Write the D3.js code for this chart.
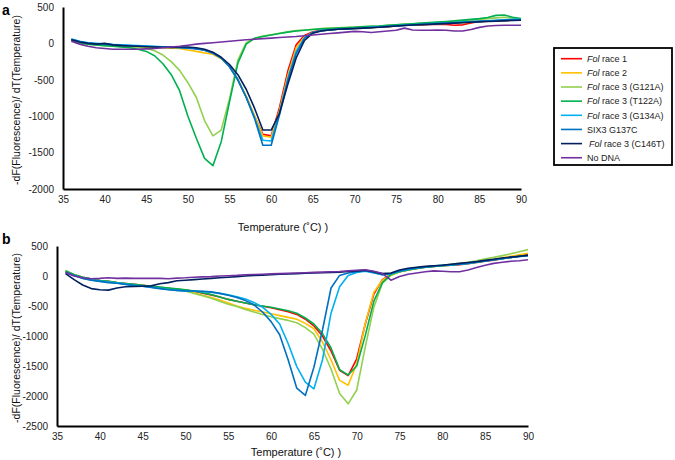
<!DOCTYPE html>
<html><head><meta charset="utf-8">
<script src="https://cdn.jsdelivr.net/npm/d3@7"></script>
<style>body{margin:0;background:#fff;}svg{display:block;font-family:Arial,"Liberation Sans",sans-serif;}</style>
</head><body><svg id="c" width="675" height="460"></svg>
<script>
const temps = d3.range(36, 91);
const seriesNames = ["Fol race 1","Fol race 2","Fol race 3 (G121A)","Fol race 3 (T122A)","Fol race 3 (G134A)","SIX3 G137C","Fol race 3 (C146T)","No DNA"];
const seriesColors = ["#ff0000","#ffc000","#92d050","#00b050","#00b0f0","#0070c0","#002060","#7030a0"];
const xTicks = [35,40,45,50,55,60,65,70,75,80,85,90];
const yTicksA = [500,0,-500,-1000,-1500,-2000];
const yTicksB = [500,0,-500,-1000,-1500,-2000,-2500];

// Panel a values (36..90 °C)
const aRace1 = [50,20,0,-15,-20,-30,-35,-40,-40,-45, -50,-50,-50,-55,-60,-70,-90,-130,-200,-320, -500,-740,-1000,-1250,-1270,-880,-380,-20,110,160, 180,190,195,200,205,210,215,225,230,240, 250,255,255,260,265,260,250,255,280,300, 305,310,315,320,320];
const aRace2 = [45,15,0,-10,-20,-30,-40,-45,-50,-55, -60,-60,-65,-70,-90,-110,-130,-150,-210,-320, -490,-720,-990,-1270,-1290,-920,-440,-60,90,150, 175,185,195,200,205,210,220,225,235,245, 250,255,260,265,270,275,280,285,290,300, 305,310,315,320,320];
const aG121A = [40,10,-10,-20,-30,-40,-45,-50,-55,-65, -100,-160,-250,-370,-540,-740,-1060,-1270,-1190,-760, -230,10,70,100,120,140,160,175,185,195, 205,210,215,220,225,230,235,240,250,255, 265,270,275,280,290,295,300,310,320,330, 340,350,360,345,330];
const aT122A = [40,10,-10,-20,-30,-40,-50,-60,-80,-110, -170,-280,-430,-650,-1000,-1300,-1580,-1680,-1350,-800, -270,-10,70,95,115,135,155,170,180,190, 200,205,210,215,220,228,235,240,248,255, 262,270,278,285,292,300,310,320,330,340, 355,385,390,360,340];
const aG134A = [60,30,10,0,-10,-15,-20,-25,-30,-35, -40,-45,-50,-55,-60,-70,-90,-130,-200,-320, -500,-740,-1020,-1330,-1340,-950,-480,-110,80,150, 175,185,195,200,205,212,220,228,235,242, 250,255,262,268,275,280,285,292,300,305, 310,318,325,330,330];
const aSIX3 = [55,25,5,-5,-10,-20,-25,-30,-35,-40, -45,-50,-55,-60,-65,-75,-95,-135,-200,-320, -500,-740,-1030,-1400,-1400,-980,-510,-140,70,150, 175,185,195,200,205,210,218,225,232,240, 248,255,260,265,272,278,284,290,296,302, 308,314,320,324,325];
const aC146T = [50,20,0,-10,0,-20,-30,-35,-40,-45, -50,-55,-55,-50,-50,-60,-80,-120,-190,-290, -430,-630,-890,-1190,-1190,-960,-560,-200,40,140, 170,185,195,200,205,210,215,222,230,238, 245,252,258,262,268,272,278,284,290,296, 300,305,310,315,318];
const aNoDNA = [30,-10,-40,-60,-70,-80,-80,-80,-80,-75, -70,-60,-50,-40,-25,-10,0,10,20,30, 40,50,58,65,72,80,88,95,105,115, 125,135,145,155,165,160,150,160,170,180, 210,185,180,180,185,180,170,170,190,220, 240,245,250,250,250];

// Panel b values (36..90 °C)
const bRace1 = [80,20,-20,-50,-75,-90,-110,-125,-140,-155, -170,-190,-205,-220,-235,-255,-285,-315,-350,-390, -420,-450,-480,-505,-530,-560,-595,-640,-720,-830, -1000,-1250,-1570,-1660,-1380,-800,-300,-60,30,70, 100,125,145,160,170,180,190,205,225,245, 265,290,310,335,360];
const bRace2 = [75,15,-25,-55,-80,-95,-115,-130,-145,-160, -175,-195,-210,-225,-250,-280,-320,-360,-400,-450, -500,-540,-570,-600,-630,-660,-690,-720,-790,-880, -1100,-1400,-1740,-1820,-1460,-790,-270,-70,20,70, 100,125,145,160,175,185,200,215,235,255, 280,305,330,355,380];
const bG121A = [90,25,-20,-50,-75,-95,-115,-130,-145,-160, -175,-195,-210,-230,-250,-290,-330,-370,-420,-470, -510,-560,-600,-640,-680,-710,-740,-780,-860,-970, -1220,-1550,-1960,-2130,-1900,-1180,-520,-120,10,70, 100,125,145,165,180,195,210,230,255,285, 310,340,370,405,440];
const bT122A = [85,20,-20,-50,-75,-90,-110,-125,-140,-155, -170,-185,-200,-215,-230,-250,-280,-310,-350,-390, -420,-450,-480,-500,-520,-550,-580,-620,-700,-800, -960,-1200,-1560,-1650,-1500,-990,-420,-110,30,70, 100,125,145,160,170,180,195,210,230,250, 270,290,310,330,345];
const bG134A = [60,10,-35,-65,-85,-100,-115,-135,-155,-170, -185,-205,-225,-240,-250,-255,-260,-270,-290,-315, -345,-385,-440,-520,-640,-800,-1130,-1510,-1770,-1880, -1400,-620,-180,10,60,80,50,20,40,80, 110,135,150,165,175,185,195,210,230,250, 270,290,310,325,340];
const bSIX3 = [60,10,-40,-70,-90,-110,-120,-140,-160,-170, -190,-210,-230,-240,-250,-250,-255,-265,-290,-320, -360,-410,-480,-600,-760,-980,-1400,-1870,-1990,-1520, -900,-200,10,50,70,90,60,20,40,85, 115,135,150,165,178,188,198,212,232,252, 272,292,310,325,340];
const bC146T = [40,-60,-150,-210,-230,-235,-200,-180,-175,-170, -165,-130,-110,-80,-70,-60,-50,-40,-30,-20, -10,0,10,15,20,30,35,40,45,50, 55,60,65,75,85,95,70,40,50,100, 130,145,160,170,180,195,210,225,240,260, 280,300,315,330,345];
const bNoDNA = [60,0,-30,-45,-40,-30,-40,-35,-40,-40, -40,-40,-45,-35,-30,-20,-15,-10,0,5, 10,20,25,30,35,40,45,50,55,60, 65,70,75,85,95,105,80,40,-70,-10, 30,50,70,85,80,70,70,100,140,180, 210,230,245,255,270];

const panelA = [aRace1,aRace2,aG121A,aT122A,aG134A,aSIX3,aC146T,aNoDNA];
const panelB = [bRace1,bRace2,bG121A,bT122A,bG134A,bSIX3,bC146T,bNoDNA];

const svg = d3.select("#c");

function drawPanel(cfg){
  const x = d3.scaleLinear().domain([35,90]).range([cfg.x0, cfg.x1]);
  const y = d3.scaleLinear().domain([cfg.ymin, 500]).range([cfg.y0, cfg.y1]);
  const g = svg.append("g");
  const line = d3.line().x((d,i)=>x(temps[i])).y(d=>y(d));
  cfg.data.forEach((vals,k)=>{
    g.append("path").datum(vals).attr("d", line)
      .attr("fill","none").attr("stroke", seriesColors[k]).attr("stroke-width",1.6)
      .attr("stroke-linejoin","round");
  });
  const fmt = d => String(d);
  const xa = g.append("g").attr("transform",`translate(0,${cfg.y0})`)
    .call(d3.axisBottom(x).tickValues(xTicks).tickFormat(fmt).tickSize(0).tickPadding(7));
  xa.select(".domain").attr("stroke","#000").attr("stroke-width",2);
  xa.selectAll("text").attr("font-size",10).attr("fill","#222").attr("font-family","Arial,'Liberation Sans',sans-serif");
  const ya = g.append("g").attr("transform",`translate(${cfg.x0},0)`)
    .call(d3.axisLeft(y).tickValues(cfg.yticks).tickFormat(fmt).tickSize(0).tickPadding(cfg.ypad));
  ya.select(".domain").attr("stroke","#000").attr("stroke-width",2);
  ya.selectAll("text").attr("font-size",10).attr("fill","#222").attr("font-family","Arial,'Liberation Sans',sans-serif");
  g.append("text").attr("x",cfg.xlabX).attr("y",cfg.xlabY).attr("text-anchor","middle")
    .attr("font-size",11).attr("fill","#111").text("Temperature (˚C) )");
  g.append("text").attr("transform",`translate(${cfg.ylabX},${cfg.ylabY}) rotate(-90)`)
    .attr("text-anchor","middle").attr("font-size",10.5).attr("fill","#111")
    .text("-dF(Fluorescence)/ dT(Temperature)");
  g.append("text").attr("x",2).attr("y",cfg.letterY).attr("font-size",14).attr("font-weight","bold")
    .attr("fill","#000").text(cfg.letter);
}

drawPanel({data:panelA, x0:63, x1:521, y0:189, y1:7, ymin:-2000, yticks:yTicksA, ypad:9,
  xlabX:283, xlabY:231, ylabX:20, ylabY:100, letter:"a", letterY:15});
drawPanel({data:panelB, x0:57, x1:528, y0:426, y1:246, ymin:-2500, yticks:yTicksB, ypad:9,
  xlabX:296, xlabY:456, ylabX:20, ylabY:338, letter:"b", letterY:244});

const lg = svg.append("g");
lg.append("rect").attr("x",554).attr("y",48).attr("width",118).attr("height",117)
  .attr("fill","#fff").attr("stroke","#000").attr("stroke-width",1.8);
seriesNames.forEach((name,i)=>{
  const yy = 58.7 + i*14.15;
  lg.append("line").attr("x1",561).attr("x2",582).attr("y1",yy).attr("y2",yy)
    .attr("stroke",seriesColors[i]).attr("stroke-width",1.6);
  const t = lg.append("text").attr("x", i===6 ? 589 : 587).attr("y",yy+3.2)
    .attr("font-size",9).attr("fill","#222");
  if(name.startsWith("Fol")){
    t.append("tspan").attr("font-style","italic").text("Fol");
    t.append("tspan").text(name.slice(3));
  } else t.text(name);
});
</script></body></html>
